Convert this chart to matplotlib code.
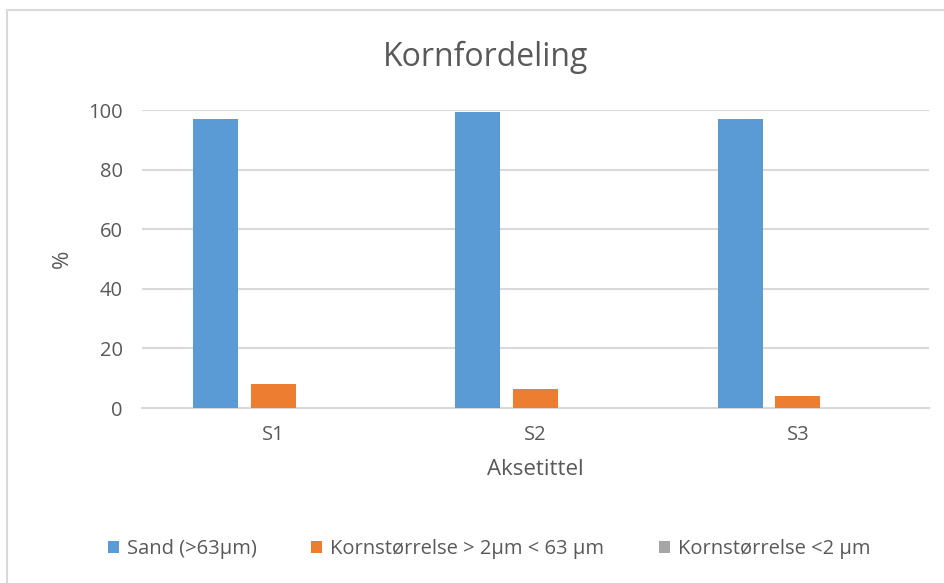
import matplotlib.pyplot as plt
from matplotlib.patches import Rectangle
import numpy as np

plt.rcParams['font.family'] = ['Open Sans', 'DejaVu Sans']

# Data
categories = ['S1', 'S2', 'S3']
series_names = ['Sand (>63µm)', 'Kornstørrelse > 2µm < 63 µm', 'Kornstørrelse <2 µm']
sand = [97.0, 99.3, 97.0]
silt = [8.0, 6.4, 4.0]
clay = [0.0, 0.0, 0.0]
yticks = [0, 20, 40, 60, 80, 100]

colors = ['#5B9BD5', '#ED7D31', '#A5A5A5']
text_color = '#595959'
grid_color = '#D9D9D9'

fig = plt.figure(figsize=(9.45, 5.83), dpi=100)
ax = fig.add_axes([142 / 945, 1 - 408 / 583, (929 - 142) / 945, (408 - 110) / 583])

# chart area border
fig.patches.append(Rectangle((7 / 945, -0.05), 1.2, 1 - 10 / 583 + 0.05,
                             transform=fig.transFigure, fill=False,
                             edgecolor=grid_color, linewidth=1.5))

x = np.arange(len(categories))
width = 0.172
offset = 0.22
for i, (vals, name) in enumerate(zip([sand, silt, clay], series_names)):
    ax.bar(x + (i - 1) * offset, vals, width, color=colors[i], label=name, zorder=3)

ax.set_xlim(-0.5, len(categories) - 0.5)
ax.set_ylim(0, 100)
ax.set_yticks(yticks)
ax.set_xticks(x)
ax.set_xticklabels(categories)
ax.yaxis.grid(True, color=grid_color, linewidth=1.5, zorder=0)
ax.set_axisbelow(True)
for s in ['top', 'right', 'left']:
    ax.spines[s].set_visible(False)
ax.spines['bottom'].set_color(grid_color)
ax.spines['bottom'].set_linewidth(1.5)
ax.tick_params(axis='both', length=0, labelsize=14.5, labelcolor=text_color)
ax.tick_params(axis='y', pad=14)
ax.tick_params(axis='x', pad=12)

ax.set_ylabel('%', fontsize=16, color=text_color, labelpad=11)
ax.set_xlabel('Aksetittel', fontsize=16, color=text_color, labelpad=10)
fig.text(486 / 945, 1 - 57 / 583, 'Kornfordeling', fontsize=23, color=text_color,
         ha='center', va='center')

leg = fig.legend(loc='center', bbox_to_anchor=(489 / 945, 1 - 549 / 583), ncol=3,
                 frameon=False, fontsize=14.5, handlelength=0.55, handleheight=0.55,
                 handletextpad=0.4, columnspacing=2.7)
for t in leg.get_texts():
    t.set_color(text_color)

fig.savefig('out.png', dpi=100, facecolor='white')
